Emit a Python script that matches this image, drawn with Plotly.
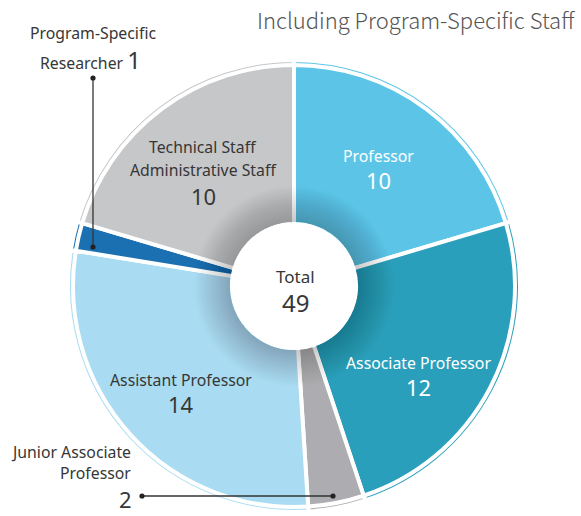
import plotly.graph_objects as go

# Staff breakdown (clockwise from 12 o'clock)
categories = [
    "Professor",
    "Associate Professor",
    "Junior Associate Professor",
    "Assistant Professor",
    "Program-Specific Researcher",
    "Technical Staff / Administrative Staff",
]
counts = [10, 12, 2, 14, 1, 10]
slice_colors = ["#5cc5e7", "#2a9fbb", "#adadb1", "#a9dcf2", "#1b70b1", "#c6c7c9"]
total = sum(counts)

W, H = 581, 516
CX, CY = 294, 286          # pie centre in pixels
R_MAIN = 221               # main pie radius (white stroke trims 2px)
R_RING = 226               # thin outer ring
R_RING_MASK = 222
R_HOLE = 62

FONT = "Noto Sans"
DARK = "#363636"
TXT = 15.8


def circle_domain(r):
    return dict(x=[(CX - r) / W, (CX + r) / W],
                y=[1 - (CY + r) / H, 1 - (CY - r) / H])


def px(x, y):
    return x / W, 1 - y / H


common = dict(sort=False, direction="clockwise", rotation=0,
              textinfo="none", hoverinfo="skip", showlegend=False)

fig = go.Figure()

# thin outer ring: full coloured pie, masked by a white disk
fig.add_trace(go.Pie(labels=categories, values=counts,
                     marker=dict(colors=slice_colors, line=dict(color="white", width=4)),
                     domain=circle_domain(R_RING), **common))
fig.add_trace(go.Pie(values=[1], marker=dict(colors=["white"], line=dict(width=0)),
                     domain=circle_domain(R_RING_MASK), **common))

# main donut
fig.add_trace(go.Pie(labels=categories, values=counts, hole=R_HOLE / R_MAIN,
                     marker=dict(colors=slice_colors, line=dict(color="white", width=4)),
                     domain=circle_domain(R_MAIN), **common))

# soft shadow around the centre disk (stacked faint annuli)
for r in range(66, 102, 2):
    fig.add_trace(go.Pie(values=[1], hole=64 / r,
                         marker=dict(colors=["rgba(0,0,0,0.011)"], line=dict(width=0)),
                         domain=circle_domain(r), **common))

annotations = []


def label(text, x, y, size=TXT, color=DARK, xanchor="center", family=FONT, weight=None):
    ax, ay = px(x, y)
    font = dict(family=family, size=size, color=color)
    if weight:
        font["weight"] = weight
    annotations.append(dict(text=text, x=ax, y=ay, xref="paper", yref="paper",
                            xanchor=xanchor, yanchor="middle", showarrow=False,
                            font=font))


label("Including Program-Specific Staff", 577, 19, size=22, color="#555555",
      xanchor="right", family="Noto Sans CJK JP", weight=300)

# in-slice labels
label(categories[0], 378, 156, color="white")
label(str(counts[0]), 378, 180, size=22, color="white")
label(categories[1], 418, 363, color="white")
label(str(counts[1]), 418, 387, size=22, color="white")
label(categories[3], 181, 380)
label(str(counts[3]), 181, 404, size=22)
label("Technical Staff", 203, 147)
label("Administrative Staff", 203, 170)
label(str(counts[5]), 203, 196, size=22)

# centre total
label("Total", 295, 276, size=17)
label(str(total), 295, 302, size=24)

# callout labels
label("Program-Specific", 93, 33)
label("Researcher <span style='font-size:24px'>%d</span>" % counts[4], 90, 60)
label("Junior Associate", 133, 452, xanchor="right")
label("Professor", 133, 473, xanchor="right")
label(str(counts[2]), 134, 499, size=22, xanchor="right")

shapes = []


def seg(x0, y0, x1, y1):
    a0, b0 = px(x0, y0)
    a1, b1 = px(x1, y1)
    shapes.append(dict(type="line", xref="paper", yref="paper", x0=a0, y0=b0, x1=a1, y1=b1,
                       line=dict(color="#333333", width=1.3)))


def dot(x, y, r=2.6):
    a0, b0 = px(x - r, y + r)
    a1, b1 = px(x + r, y - r)
    shapes.append(dict(type="circle", xref="paper", yref="paper", x0=a0, y0=b0, x1=a1, y1=b1,
                       fillcolor="#222222", line=dict(width=0)))


seg(93, 78, 93, 247)
dot(93, 78)
dot(93, 247)
seg(142, 496, 333, 496)
dot(142, 496)
dot(333, 496)

fig.update_layout(width=W, height=H, margin=dict(l=0, r=0, t=0, b=0),
                  paper_bgcolor="white", plot_bgcolor="white",
                  annotations=annotations, shapes=shapes)

fig.write_html("out.html")
